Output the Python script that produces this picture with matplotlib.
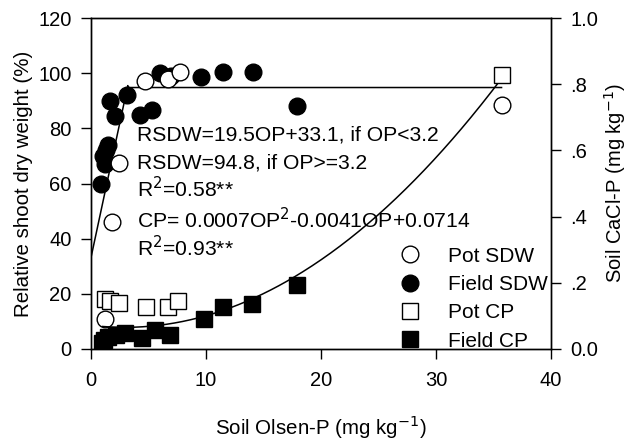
import numpy as np
import matplotlib.pyplot as plt
from matplotlib.lines import Line2D

plt.rcParams['font.family'] = ['Liberation Sans', 'DejaVu Sans']

# shoot dry weight (%), left axis
pot_sdw_x = [1.2, 1.8, 2.4, 4.7, 6.7, 7.7, 35.7]
pot_sdw_y = [10.8, 46.0, 67.5, 97.0, 97.8, 100.5, 88.3]
field_sdw_x = [0.9, 1.05, 1.2, 1.35, 1.5, 1.65, 2.1, 3.1, 4.3, 5.3, 6.0, 7.0, 9.6, 11.5, 14.1, 17.9]
field_sdw_y = [60.0, 70.0, 67.0, 72.0, 74.0, 90.0, 84.5, 92.0, 85.0, 86.5, 100.0, 98.8, 98.5, 100.5, 100.5, 88.0]

# CaCl-P (mg/kg), right axis
pot_cp_x = [1.2, 1.65, 2.4, 4.75, 6.7, 7.6, 35.7]
pot_cp_y = [0.150, 0.146, 0.140, 0.128, 0.128, 0.146, 0.828]
field_cp_x = [1.0, 1.1, 1.5, 2.2, 3.0, 4.4, 5.6, 6.9, 9.8, 11.5, 14.0, 17.9]
field_cp_y = [0.018, 0.027, 0.037, 0.042, 0.047, 0.032, 0.057, 0.042, 0.090, 0.126, 0.136, 0.193]

# fitted models
def rsdw(op):
    return np.where(op < 3.2, 19.5 * op + 33.1, 94.8)

def cp(op):
    return 0.0007 * op ** 2 - 0.0041 * op + 0.0714

fig = plt.figure(figsize=(6.3, 4.46), dpi=100)
ax = fig.add_axes([0.1444, 0.2175, 0.7302, 0.7421])
ax2 = ax.twinx()

xs = np.linspace(0, 35.7, 400)
xs = np.sort(np.append(xs, [3.2 - 1e-6]))
ax.plot(xs, rsdw(xs), color='black', lw=1.1)
ax.plot(field_sdw_x, field_sdw_y, 'o', ms=12, mfc='black', mec='black', mew=1, ls='none')
ax.plot(pot_sdw_x, pot_sdw_y, 'o', ms=12, mfc='white', mec='black', mew=1, ls='none')

xc = np.linspace(1.0, 35.7, 300)
ax2.plot(xc, cp(xc), color='black', lw=1.1)
ax2.plot(pot_cp_x, pot_cp_y, 's', ms=11, mfc='white', mec='black', mew=1, ls='none')
ax2.plot(field_cp_x, field_cp_y, 's', ms=11, mfc='black', mec='black', mew=1, ls='none')

ax.set_xlim(0, 40)
ax.set_ylim(0, 120)
ax2.set_ylim(0, 1.0)
ax.set_xticks([0, 10, 20, 30, 40])
ax.set_yticks([0, 20, 40, 60, 80, 100, 120])
ax2.set_yticks([0, 0.2, 0.4, 0.6, 0.8, 1.0])
ax2.set_yticklabels(['0.0', '.2', '.4', '.6', '.8', '1.0'])

for a in (ax, ax2):
    a.tick_params(direction='out', length=7, width=1, labelsize=14.5, pad=7)
    for s in a.spines.values():
        s.set_linewidth(1)
ax.tick_params(axis='x', pad=9)
ax.tick_params(top=False)

ax.set_xlabel('Soil Olsen-P (mg kg$^{-1}$)', fontsize=14.8, labelpad=17)
ax.set_ylabel('Relative shoot dry weight (%)', fontsize=14.8, labelpad=4)
ax2.set_ylabel('Soil CaCl-P (mg kg$^{-1}$)', fontsize=14.5, labelpad=3)

fs = 15.2
ax.text(4.0, 77.5, 'RSDW=19.5OP+33.1, if OP<3.2', fontsize=fs, va='center')
ax.text(4.0, 67.5, 'RSDW=94.8, if OP>=3.2', fontsize=fs, va='center')
ax.text(4.0, 58.3, 'R$^2$=0.58**', fontsize=fs, va='center')
ax.text(4.0, 46.8, 'CP= 0.0007OP$^2$-0.0041OP+0.0714', fontsize=fs, va='center')
ax.text(4.0, 36.6, 'R$^2$=0.93**', fontsize=fs, va='center')

handles = [
    Line2D([], [], marker='o', ls='none', ms=12, mfc='white', mec='black'),
    Line2D([], [], marker='o', ls='none', ms=12, mfc='black', mec='black'),
    Line2D([], [], marker='s', ls='none', ms=11, mfc='white', mec='black'),
    Line2D([], [], marker='s', ls='none', ms=11, mfc='black', mec='black'),
]
ax2.legend(handles, ['Pot SDW', 'Field SDW', 'Pot CP', 'Field CP'],
           loc='lower left', bbox_to_anchor=(0.671, -0.005), frameon=False,
           fontsize=15, handlelength=1.0, handletextpad=1.3, labelspacing=0.45,
           borderpad=0, borderaxespad=0)

fig.savefig('out.png', dpi=100)
